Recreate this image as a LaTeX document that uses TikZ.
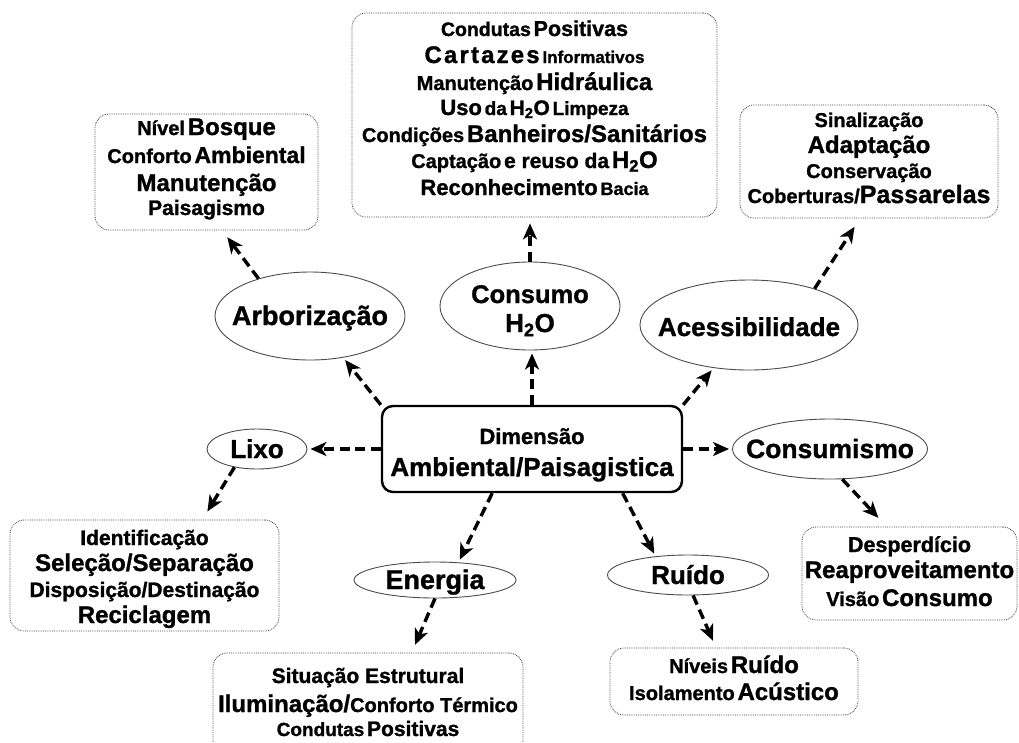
\documentclass[tikz,border=0pt]{standalone}
\usepackage{fontspec}
\setmainfont{Liberation Sans}[BoldFeatures={FakeBold=1.2}]
\usetikzlibrary{arrows.meta,shapes.geometric}
\newcommand{\fsz}[1]{\fontsize{#1}{#1}\selectfont}
\begin{document}
\begin{tikzpicture}[x=1pt,y=-1pt,
 ell/.style={draw=black!70, line width=0.9pt, ellipse, inner sep=0pt},
 hub/.style={draw=black, line width=2.4pt, rounded corners=11pt, inner sep=0pt},
 dbox/.style={draw=black!75, line width=0.8pt, densely dotted, rounded corners=14pt, inner sep=0pt},
 txt/.style={anchor=base, inner sep=0pt, font=\bfseries},
 arr/.style={line width=3.4pt, dash pattern=on 10pt off 5.5pt, -{Stealth[length=16pt,width=14pt,inset=4.5pt]}, shorten >=3pt},
]
\fill[white] (0,0) rectangle (1019,742);
\useasboundingbox (0,0) rectangle (1019,742);

% central box
\node[hub, minimum width=300pt, minimum height=86pt] (cb) at (532,449) {};
\node[txt] (cb1) at (532,444) {\fsz{22}Dimensão};
\node[txt] (cb2) at (532,476) {\fsz{26}Ambiental/Paisagistica};

% ellipses
\node[ell, minimum width=190pt, minimum height=88pt] (arb) at (310,316) {};
\node[txt] (arbt) at (310,325) {\fsz{27}Arborização};

\node[ell, minimum width=180pt, minimum height=88pt] (cons) at (530,306) {};
\node[txt] (const1) at (530,303) {\fsz{25.5}Consumo};
\node[txt] (const2) at (530,332) {\fsz{26}H\textsubscript{2}O};

\node[ell, minimum width=218pt, minimum height=90pt] (acc) at (749,325) {};
\node[txt] (acct) at (749,336) {\fsz{26}Acessibilidade};

\node[ell, minimum width=100pt, minimum height=40pt] (lixo) at (257,449) {};
\node[txt] (lixot) at (257,458) {\fsz{26}Lixo};

\node[ell, minimum width=195pt, minimum height=60pt] (csm) at (830,449) {};
\node[txt] (csmt) at (830,458) {\fsz{26.5}Consumismo};

\node[ell, minimum width=162pt, minimum height=36pt] (ene) at (435,580) {};
\node[txt] (enet) at (435,589) {\fsz{27}Energia};

\node[ell, minimum width=161pt, minimum height=40pt] (rui) at (688,575) {};
\node[txt] (ruit) at (688,584) {\fsz{26}Ruído};

% dotted boxes
\node[dbox, minimum width=223pt, minimum height=116pt] (arbbox) at (206.5,172) {};
\node[txt] (arb1) at (206.5,135) {{\fsz{20}Nível} {\fsz{24}Bosque}};
\node[txt] (arb2) at (206.5,163) {{\fsz{20}Conforto} {\fsz{23}Ambiental}};
\node[txt] (arb3) at (206.5,191) {\fsz{24}Manutenção};
\node[txt] (arb4) at (206.5,215) {\fsz{21}Paisagismo};

\node[dbox, minimum width=365pt, minimum height=204pt] (topbox) at (534.5,115) {};
\node[txt] (top1) at (534.5,36) {{\fsz{19.5}Condutas} {\fsz{21.5}Positivas}};
\node[txt] (top2) at (534.5,63) {{\fsz{24}\addfontfeature{LetterSpace=9}Cartazes} {\fsz{17}Informativos}};
\node[txt] (top3) at (534.5,90) {{\fsz{20}Manutenção} {\fsz{24}Hidráulica}};
\node[txt] (top4) at (534.5,115) {{\fsz{22}Uso} {\fsz{19}da} {\fsz{21}H\textsubscript{2}O} {\fsz{19}Limpeza}};
\node[txt] (top5) at (534.5,142) {{\fsz{20}Condições} {\fsz{24}Banheiros/Sanitários}};
\node[txt] (top6) at (534.5,168) {{\fsz{20}Captação} {\fsz{21}e reuso da} {\fsz{24}H\textsubscript{2}O}};
\node[txt] (top7) at (534.5,195) {{\fsz{22}Reconhecimento} {\fsz{18}Bacia}};

\node[dbox, minimum width=258pt, minimum height=113pt] (accbox) at (869,161.5) {};
\node[txt] (acc1) at (869,127) {\fsz{20}Sinalização};
\node[txt] (acc2) at (869,153) {\fsz{24}Adaptação};
\node[txt] (acc3) at (869,178) {\fsz{20}Conservação};
\node[txt] (acc4) at (869,203) {{\fsz{20}Coberturas/}{\fsz{25}Passarelas}};

\node[dbox, minimum width=269pt, minimum height=111pt] (lixobox) at (144.5,575.5) {};
\node[txt] (lix1) at (144.5,545) {\fsz{21}Identificação};
\node[txt] (lix2) at (144.5,571) {\fsz{24}Seleção/Separação};
\node[txt] (lix3) at (144.5,597) {\fsz{21}Disposição/Destinação};
\node[txt] (lix4) at (144.5,623) {\fsz{24}Reciclagem};

\node[dbox, minimum width=310pt, minimum height=107pt] (enebox) at (368,706.5) {};
\node[txt] (ene1) at (368,683) {\fsz{21}Situação Estrutural};
\node[txt] (ene2) at (368,712) {{\fsz{24}Iluminação/}{\fsz{20}Conforto Térmico}};
\node[txt] (ene3) at (368,736) {{\fsz{19}Condutas} {\fsz{21}Positivas}};

\node[dbox, minimum width=248pt, minimum height=67pt] (ruibox) at (734,681.5) {};
\node[txt] (rui1) at (734,673) {{\fsz{20}Níveis} {\fsz{24}Ruído}};
\node[txt] (rui2) at (734,700) {{\fsz{20}Isolamento} {\fsz{24}Acústico}};

\node[dbox, minimum width=215pt, minimum height=93pt] (csmbox) at (909.5,573.5) {};
\node[txt] (csm1) at (909.5,552) {\fsz{21.5}Desperdício};
\node[txt] (csm2) at (909.5,578) {\fsz{24}Reaproveitamento};
\node[txt] (csm3) at (909.5,606) {{\fsz{20}Visão} {\fsz{24}Consumo}};

% connectors from the centre
\draw[arr] (cb.north west) -- (arb);
\draw[arr] (cb.north) -- (cb.north |- cons.south);
\draw[arr] (cb.north east) -- (acc);
\draw[arr] (cb.west) -- (lixo);
\draw[arr] (cb.east) -- (csm);
\draw[arr] (cb.228) -- (ene.37);
\draw[arr] (cb.334) -- (rui.150);

% connectors to the detail boxes
\draw[arr, shorten >=8.5pt] (arb.144) -- (arbbox.285);
\draw[arr, shorten >=6pt] (cons.north) -- (cons.north |- topbox.south);
\draw[arr, shorten >=10pt] (acc.29) -- (accbox.261);
\draw[arr, shorten >=9.5pt] (lixo.219) -- (lixobox.44);
\draw[arr, shorten >=8.5pt] (ene.south) -- (enebox.51);
\draw[arr, shorten >=7.5pt] (rui.284) -- (ruibox.118);
\draw[arr, shorten >=12pt] (csm.292) -- (csmbox.116);
\end{tikzpicture}
\end{document}
